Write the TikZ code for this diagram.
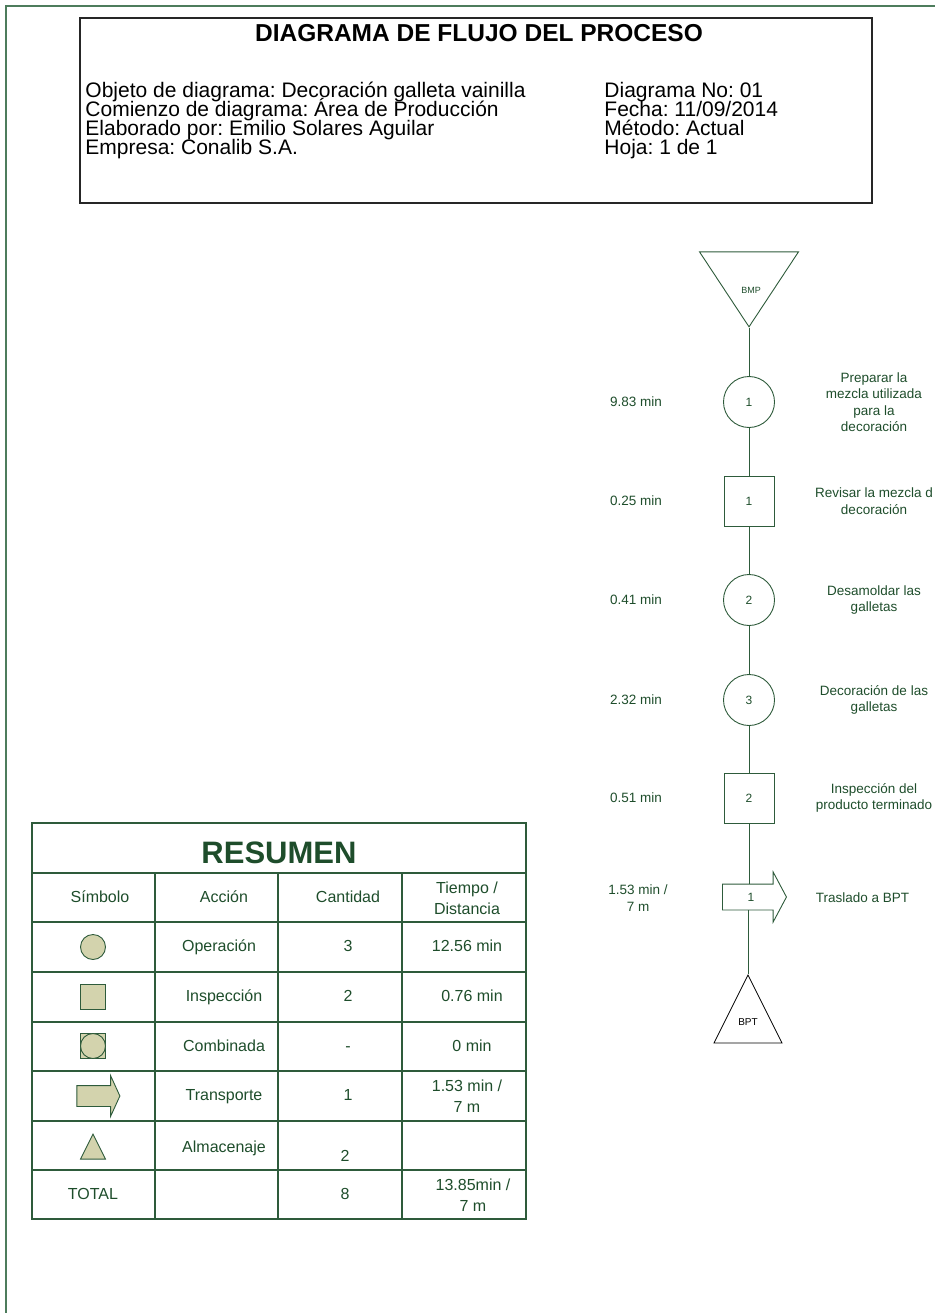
\documentclass[tikz,border=0pt]{standalone}
\usepackage{fontspec}
\setmainfont{Liberation Sans}
\frenchspacing
\usepackage{tikz}
\usetikzlibrary{shapes.geometric}
\usetikzlibrary{shapes.arrows}
\definecolor{verde}{HTML}{1E4D2B}
\definecolor{linea}{HTML}{2E5B3B}
\definecolor{marco}{HTML}{4D7C5C}
\definecolor{caqui}{HTML}{D3D3AD}
\tikzstyle{op} = [circle, draw=linea, minimum size=51pt, inner sep=0pt,
    text=verde, font=\fontsize{12}{14}\selectfont]
\tikzstyle{insp} = [rectangle, draw=linea, minimum size=50pt, inner sep=0pt,
    text=verde, font=\fontsize{12}{14}\selectfont]
\tikzstyle{tras} = [single arrow, draw=linea, minimum height=64pt, single arrow tip angle=124,
    single arrow head extend=12pt, single arrow head indent=0pt, inner sep=0pt,
    text height=16.5pt, text depth=8.5pt, text=verde, font=\fontsize{12}{14}\selectfont]
\tikzstyle{alm} = [isosceles triangle, isosceles triangle stretches, draw, inner sep=0pt]
\tikzstyle{lbl} = [text=verde, align=center, font=\fontsize{13.5}{16.5}\selectfont]
\tikzstyle{celda} = [text=verde, text height=11.5pt, text depth=3.5pt, font=\fontsize{16}{21}\selectfont]
\tikzstyle{celdados} = [text=verde, align=center, font=\fontsize{16}{21}\selectfont]
\tikzstyle{cab} = [anchor=base west, inner xsep=0pt, font=\fontsize{21}{20}\selectfont]
\tikzstyle{simb} = [draw=linea, fill=caqui, inner sep=0pt]

\begin{document}
\begin{tikzpicture}[x=1pt,y=-1pt,line width=0.9pt]
  \useasboundingbox (0,0) rectangle (935,1313);
  \draw[marco, line width=2pt] (6,1313) -- (6,6) -- (935,6);

  % encabezado
  \draw[black!85, line width=1.3pt] (80,18) rectangle (872,203);
  \node[anchor=base, font=\fontsize{24.5}{25}\selectfont\bfseries] (titulo) at (479,42) {DIAGRAMA DE FLUJO DEL PROCESO};
  \node[cab] (obj)  at (85,97.7) {Objeto de diagrama: Decoración galleta vainilla};
  \node[cab] (com)  at (85,117)  {Comienzo de diagrama: Área de Producción};
  \node[cab] (ela)  at (85,136)  {Elaborado por: Emilio Solares Aguilar};
  \node[cab] (emp)  at (85,155)  {Empresa: Conalib S.A.};
  \node[cab] (dno)  at (604,97.7) {Diagrama No: 01};
  \node[cab] (fec)  at (604,117)  {Fecha: 11/09/2014};
  \node[cab] (met)  at (604,136)  {Método: Actual};
  \node[cab] (hoja) at (604,155)  {Hoja: 1 de 1};

  % diagrama
  \node[alm, draw=linea, shape border rotate=-90, minimum width=99pt, minimum height=75pt,
        anchor=apex] (bmp) at (749,328) {};
  \node[text=verde, font=\fontsize{9}{10}\selectfont] (bmptxt) at (751,290) {BMP};
  \node[op]   (op1)  at (749,402) {1};
  \node[insp] (ins1) at (749,501) {1};
  \node[op]   (op2)  at (749,600) {2};
  \node[op]   (op3)  at (749,700) {3};
  \node[insp] (ins2) at (749,798) {2};
  \node[tras] (tr1)  at (751,897) {1};
  \node[alm, shape border rotate=90, minimum width=68pt, minimum height=68pt,
        anchor=apex, line width=0.8pt] (bpt) at (748,974) {};
  \node[font=\fontsize{10}{11}\selectfont] (bpttxt) at (748,1022) {BPT};

  \node[lbl] (t1) at (636,402) {9.83 min};
  \node[lbl] (t2) at (636,501) {0.25 min};
  \node[lbl] (t3) at (636,600) {0.41 min};
  \node[lbl] (t4) at (636,700) {2.32 min};
  \node[lbl] (t5) at (636,798) {0.51 min};
  \node[lbl] (t6) at (638,898) {1.53 min /\\7 m};

  \node[lbl] (d1) at (874,402) {Preparar la\\mezcla utilizada\\para la\\decoración};
  \node[lbl] (d2) at (874,501) {Revisar la mezcla d\\decoración};
  \node[lbl] (d3) at (874,600) {Desamoldar las\\galletas};
  \node[lbl] (d4) at (874,700) {Decoración de las\\galletas};
  \node[lbl] (d5) at (874,798) {Inspección del\\producto terminado};
  \node[lbl, anchor=west] (d6) at (812,898) {Traslado a BPT};

  \path[linea] (bmp) edge (op1)
  (op1) edge (ins1)
  (ins1) edge (op2)
  (op2) edge (op3)
  (op3) edge (ins2);
  \draw[linea] (ins2.south) -- (ins2.south |- tr1.north);
  \draw[linea] (bpt.apex |- tr1.south) -- (bpt.apex);

  % resumen
  \draw[linea, line width=1.2pt] (32,823) rectangle (526,1219);
  \draw[linea, line width=1.2pt] (32,873) -- (526,873) (32,922) -- (526,922)
    (32,972) -- (526,972) (32,1022) -- (526,1022) (32,1071) -- (526,1071)
    (32,1121) -- (526,1121) (32,1170) -- (526,1170);
  \draw[linea, line width=1.2pt] (155,873) -- (155,1219) (278,873) -- (278,1219)
    (402,873) -- (402,1219);
  \node[text=verde, font=\fontsize{31}{31}\selectfont\bfseries] (resumen) at (279,853) {RESUMEN};

  \node[celda] (c11) at (100,898) {Símbolo};
  \node[celda] (c12) at (224,898) {Acción};
  \node[celda] (c13) at (348,898) {Cantidad};
  \node[celdados] (c14) at (467,898) {Tiempo /\\Distancia};

  \node[simb, circle, minimum size=25pt] (s1) at (93,947) {};
  \node[celda] (c22) at (219,947) {Operación};
  \node[celda] (c23) at (348,947) {3};
  \node[celda] (c24) at (467,947) {12.56 min};

  \node[simb, rectangle, minimum size=25pt] (s2) at (93,997) {};
  \node[celda] (c32) at (224,997) {Inspección};
  \node[celda] (c33) at (348,997) {2};
  \node[celda] (c34) at (472,997) {0.76 min};

  \node[simb, rectangle, minimum size=25pt] (s3) at (93,1046) {};
  \node[simb, circle, minimum size=25pt] (s3c) at (93,1046) {};
  \node[celda] (c42) at (224,1047) {Combinada};
  \node[celda] (c43) at (348,1047) {-};
  \node[celda] (c44) at (472,1047) {0 min};

  \node[simb, single arrow, minimum height=43pt, single arrow tip angle=131,
        single arrow head extend=10pt, single arrow head indent=0pt,
        text height=10pt, text depth=10pt] (s4) at (96,1096) {};
  \node[celda] (c52) at (224,1096) {Transporte};
  \node[celda] (c53) at (348,1096) {1};
  \node[celdados] (c54) at (467,1096) {1.53 min /\\7 m};

  \node[simb, isosceles triangle, isosceles triangle stretches, shape border rotate=90,
        minimum width=25pt, minimum height=25pt, anchor=apex] (s5) at (93,1133) {};
  \node[celda] (c62) at (224,1148) {Almacenaje};
  \node[celda] (c63) at (345,1157) {2};

  \node[celda] (c71) at (93,1195) {TOTAL};
  \node[celda] (c73) at (345,1195) {8};
  \node[celdados] (c74) at (473,1195) {13.85min /\\7 m};
\end{tikzpicture}
\end{document}
